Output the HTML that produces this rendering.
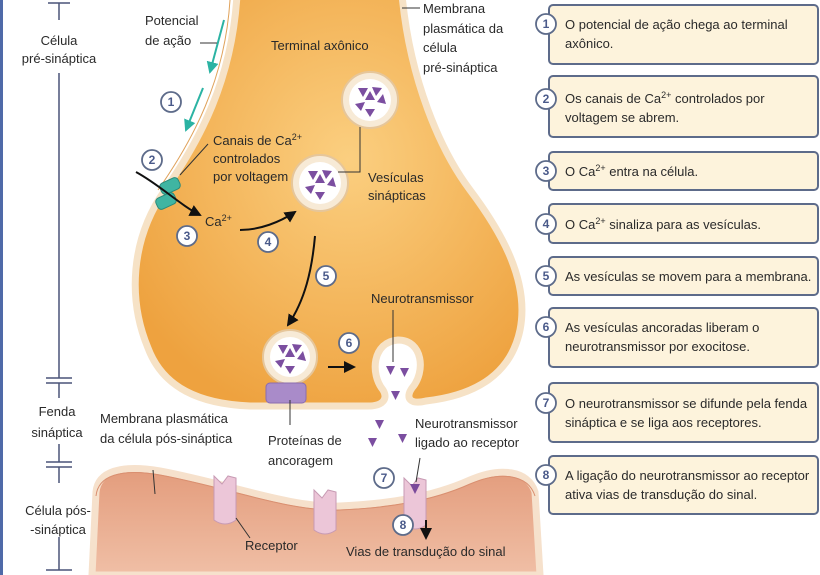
<!DOCTYPE html>
<html><head><meta charset="utf-8"><style>
body{margin:0;background:#fff}
svg{display:block}
text{font-family:"Liberation Sans",sans-serif;fill:#2a2a2a}
.box{fill:#fdf3dc;stroke:#5d6b8a;stroke-width:2}
.num{fill:#fff;stroke:#5d6b8a;stroke-width:1.8}
.nt{font-size:12px;fill:#4a5a8a;text-anchor:middle;font-weight:bold}
</style></head><body>
<svg width="820" height="575" viewBox="0 0 820 575">
<defs>
<radialGradient id="tg" cx="0.55" cy="0.4" r="0.65"><stop offset="0" stop-color="#fbcf80"/><stop offset="1" stop-color="#eea23f"/></radialGradient>
<linearGradient id="pg" x1="0" y1="0" x2="0" y2="1"><stop offset="0" stop-color="#e39c7c"/><stop offset="1" stop-color="#f0bfa6"/></linearGradient>
<marker id="ah" markerWidth="6" markerHeight="6" refX="5" refY="3" orient="auto"><path d="M0,0 L6,3 L0,6 Z" fill="#111"/></marker>
<marker id="at" markerWidth="6" markerHeight="6" refX="5" refY="3" orient="auto"><path d="M0,0 L6,3 L0,6 Z" fill="#2bb3a3"/></marker>
</defs>
<rect x="0" y="0" width="3" height="575" fill="#4f6aa8"/>
<g stroke="#4a5478" stroke-width="1.5">
<line x1="48" y1="3" x2="70" y2="3"/><line x1="59" y1="3" x2="59" y2="20"/>
<line x1="59" y1="73" x2="59" y2="378"/>
<line x1="46" y1="378" x2="72" y2="378"/><line x1="46" y1="383" x2="72" y2="383"/>
<line x1="59" y1="383" x2="59" y2="398"/>
<line x1="59" y1="444" x2="59" y2="462"/>
<line x1="46" y1="462" x2="72" y2="462"/><line x1="46" y1="467" x2="72" y2="467"/>
<line x1="59" y1="467" x2="59" y2="483"/>
<line x1="59" y1="537" x2="59" y2="570"/><line x1="46" y1="570" x2="72" y2="570"/>
</g>
<text x="59" y="45" font-size="13" text-anchor="middle">Célula</text>
<text x="59" y="63" font-size="13" text-anchor="middle">pré-sináptica</text>
<text x="57" y="416" font-size="13" text-anchor="middle">Fenda</text>
<text x="57" y="437" font-size="13" text-anchor="middle">sináptica</text>
<text x="58" y="515" font-size="13" text-anchor="middle">Célula pós-</text>
<text x="58" y="534" font-size="13" text-anchor="middle">-sináptica</text>

<path d="M92 575 L96 492 C98 472 120 464 160 471 C230 484 290 508 340 506 C385 504 430 498 470 480 C500 467 528 470 535 492 L540 575 Z" fill="url(#pg)" stroke="#f6e1cc" stroke-width="7"/>
<path d="M96 492 C98 472 120 464 160 471 C230 484 290 508 340 506 C385 504 430 498 470 480 C500 467 528 470 535 492" fill="none" stroke="#d98f70" stroke-width="1" transform="translate(0,4)"/>
<g fill="#ecc6d8" stroke="#c79ab3" stroke-width="1">
<path d="M214 476 L222 484 L228 476 L236 478 L236 520 Q225 528 214 520 Z"/>
<path d="M314 490 L322 498 L328 490 L336 492 L336 530 Q325 538 314 530 Z"/>
<path d="M404 478 L412 486 L418 478 L426 480 L426 525 Q415 533 404 525 Z"/>
</g>
<path d="M410 484 L420 484 L415 494 Z" fill="#7a4a9a"/>

<path d="M237 -5 C232 80 200 140 165 190 C130 240 128 300 148 348 C163 388 200 404 250 406 L368 406 C384 406 388 398 383 390 C370 374 372 342 398 340 C423 340 426 372 412 388 C405 398 410 405 426 401 C470 396 510 378 520 330 C530 280 500 230 470 190 C440 150 410 80 402 -5 Z" fill="url(#tg)" stroke="#f6e2c6" stroke-width="7"/>
<path d="M230 0 C225 80 193 140 158 190" fill="none" stroke="#e0a25a" stroke-width="1"/>

<g>
<circle cx="370" cy="100" r="28" fill="#f7ead6" stroke="#e6c69a" stroke-width="2"/><circle cx="370" cy="100" r="21" fill="#fff"/>
<circle cx="320" cy="183" r="28" fill="#f7ead6" stroke="#e6c69a" stroke-width="2"/><circle cx="320" cy="183" r="21" fill="#fff"/>
<circle cx="290" cy="357" r="27" fill="#f7ead6" stroke="#e6c69a" stroke-width="2"/><circle cx="290" cy="357" r="20" fill="#fff"/>
<g fill="#7b4ea0">
<path d="M358 88 l10 0 l-5 9z M372 87 l10 1 l-6 8z M365 100 l10 0 l-5 -9z M355 104 l10 -2 l-4 9z M377 102 l6 -8 l3 10z M365 109 l10 0 l-5 8z"/>
<path d="M308 171 l10 0 l-5 9z M322 170 l10 1 l-6 8z M315 183 l10 0 l-5 -9z M305 187 l10 -2 l-4 9z M327 185 l6 -8 l3 10z M315 192 l10 0 l-5 8z"/>
<path d="M278 345 l10 0 l-5 9z M292 344 l10 1 l-6 8z M285 357 l10 0 l-5 -9z M275 361 l10 -2 l-4 9z M297 359 l6 -8 l3 10z M285 366 l10 0 l-5 8z"/>
<path d="M386 366 l9 0 l-4.5 9z M400 368 l9 0 l-4.5 9z M391 391 l9 0 l-4.5 9z M375 420 l9 0 l-4.5 9z M398 434 l9 0 l-4.5 9z M368 438 l9 0 l-4.5 9z"/>
</g>
</g>
<rect x="266" y="383" width="40" height="20" rx="4" fill="#a98bc9" stroke="#8a6cb0"/>

<g fill="#3fb5a2" stroke="#2a8a7a">
<rect x="160" y="180" width="20" height="12" rx="4" transform="rotate(-25 170 186)"/>
<rect x="156" y="195" width="20" height="12" rx="4" transform="rotate(-25 166 201)"/>
</g>

<g fill="none" stroke-width="2">
<path d="M224 20 L210 72" stroke="#2bb3a3" marker-end="url(#at)"/>
<path d="M203 88 L186 130" stroke="#2bb3a3" marker-end="url(#at)"/>
<path d="M136 172 C160 185 180 205 200 215" stroke="#111" marker-end="url(#ah)"/>
<path d="M240 230 C260 230 280 222 295 212" stroke="#111" marker-end="url(#ah)"/>
<path d="M315 236 C312 270 305 300 288 325" stroke="#111" marker-end="url(#ah)"/>
<path d="M328 367 L354 367" stroke="#111" marker-end="url(#ah)"/>
<path d="M426 520 L426 538" stroke="#111" marker-end="url(#ah)"/>
</g>
<g fill="none" stroke="#333" stroke-width="1">
<line x1="200" y1="43" x2="217" y2="43"/>
<path d="M208 144 L180 175"/>
<path d="M360 127 L360 172 L338 172"/>
<line x1="393" y1="310" x2="393" y2="362"/>
<line x1="290" y1="400" x2="290" y2="425"/>
<line x1="153" y1="470" x2="155" y2="494"/>
<line x1="236" y1="518" x2="250" y2="538"/>
<line x1="420" y1="458" x2="416" y2="482"/>
<line x1="402" y1="8" x2="420" y2="8"/>
</g>

<g>
<circle class="num" cx="171" cy="102" r="10"/><text class="nt" x="171" y="106">1</text>
<circle class="num" cx="152" cy="160" r="10"/><text class="nt" x="152" y="164">2</text>
<circle class="num" cx="187" cy="236" r="10"/><text class="nt" x="187" y="240">3</text>
<circle class="num" cx="268" cy="242" r="10"/><text class="nt" x="268" y="246">4</text>
<circle class="num" cx="326" cy="276" r="10"/><text class="nt" x="326" y="280">5</text>
<circle class="num" cx="349" cy="343" r="10"/><text class="nt" x="349" y="347">6</text>
<circle class="num" cx="384" cy="478" r="10"/><text class="nt" x="384" y="482">7</text>
<circle class="num" cx="403" cy="525" r="10"/><text class="nt" x="403" y="529">8</text>
</g>

<g font-size="13">
<text x="145" y="25">Potencial</text><text x="145" y="45">de ação</text>
<text x="271" y="50">Terminal axônico</text>
<text x="423" y="13">Membrana</text><text x="423" y="33">plasmática da</text><text x="423" y="52">célula</text><text x="423" y="72">pré-sináptica</text>
<text x="213" y="145">Canais de Ca<tspan font-size="9" dy="-5">2+</tspan></text><text x="213" y="163">controlados</text><text x="213" y="181">por voltagem</text>
<text x="205" y="226">Ca<tspan font-size="9" dy="-5">2+</tspan></text>
<text x="368" y="182">Vesículas</text><text x="368" y="200">sinápticas</text>
<text x="371" y="303">Neurotransmissor</text>
<text x="100" y="423">Membrana plasmática</text><text x="100" y="443">da célula pós-sináptica</text>
<text x="268" y="445">Proteínas de</text><text x="268" y="465">ancoragem</text>
<text x="415" y="428">Neurotransmissor</text><text x="415" y="447">ligado ao receptor</text>
<text x="245" y="550">Receptor</text>
<text x="346" y="556">Vias de transdução do sinal</text>
</g>

<g>
<rect class="box" x="549" y="5" width="269" height="59" rx="4"/>
<rect class="box" x="549" y="76" width="269" height="61" rx="4"/>
<rect class="box" x="549" y="152" width="269" height="38" rx="4"/>
<rect class="box" x="549" y="204" width="269" height="39" rx="4"/>
<rect class="box" x="549" y="257" width="269" height="38" rx="4"/>
<rect class="box" x="549" y="308" width="269" height="59" rx="4"/>
<rect class="box" x="549" y="383" width="269" height="59" rx="4"/>
<rect class="box" x="549" y="456" width="269" height="58" rx="4"/>
<g>
<circle class="num" cx="546" cy="24" r="10"/><text class="nt" x="546" y="28">1</text>
<circle class="num" cx="546" cy="99" r="10"/><text class="nt" x="546" y="103">2</text>
<circle class="num" cx="546" cy="171" r="10"/><text class="nt" x="546" y="175">3</text>
<circle class="num" cx="546" cy="224" r="10"/><text class="nt" x="546" y="228">4</text>
<circle class="num" cx="546" cy="276" r="10"/><text class="nt" x="546" y="280">5</text>
<circle class="num" cx="546" cy="327" r="10"/><text class="nt" x="546" y="331">6</text>
<circle class="num" cx="546" cy="403" r="10"/><text class="nt" x="546" y="407">7</text>
<circle class="num" cx="546" cy="475" r="10"/><text class="nt" x="546" y="479">8</text>
</g>
<g font-size="13">
<text x="565" y="29">O potencial de ação chega ao terminal</text><text x="565" y="48">axônico.</text>
<text x="565" y="103">Os canais de Ca<tspan font-size="9" dy="-5">2+</tspan><tspan dy="5"> controlados por</tspan></text><text x="565" y="122">voltagem se abrem.</text>
<text x="565" y="176">O Ca<tspan font-size="9" dy="-5">2+</tspan><tspan dy="5"> entra na célula.</tspan></text>
<text x="565" y="229">O Ca<tspan font-size="9" dy="-5">2+</tspan><tspan dy="5"> sinaliza para as vesículas.</tspan></text>
<text x="565" y="281">As vesículas se movem para a membrana.</text>
<text x="565" y="332">As vesículas ancoradas liberam o</text><text x="565" y="351">neurotransmissor por exocitose.</text>
<text x="565" y="408">O neurotransmissor se difunde pela fenda</text><text x="565" y="427">sináptica e se liga aos receptores.</text>
<text x="565" y="480">A ligação do neurotransmissor ao receptor</text><text x="565" y="499">ativa vias de transdução do sinal.</text>
</g>
</g>
</svg>
</body></html>
